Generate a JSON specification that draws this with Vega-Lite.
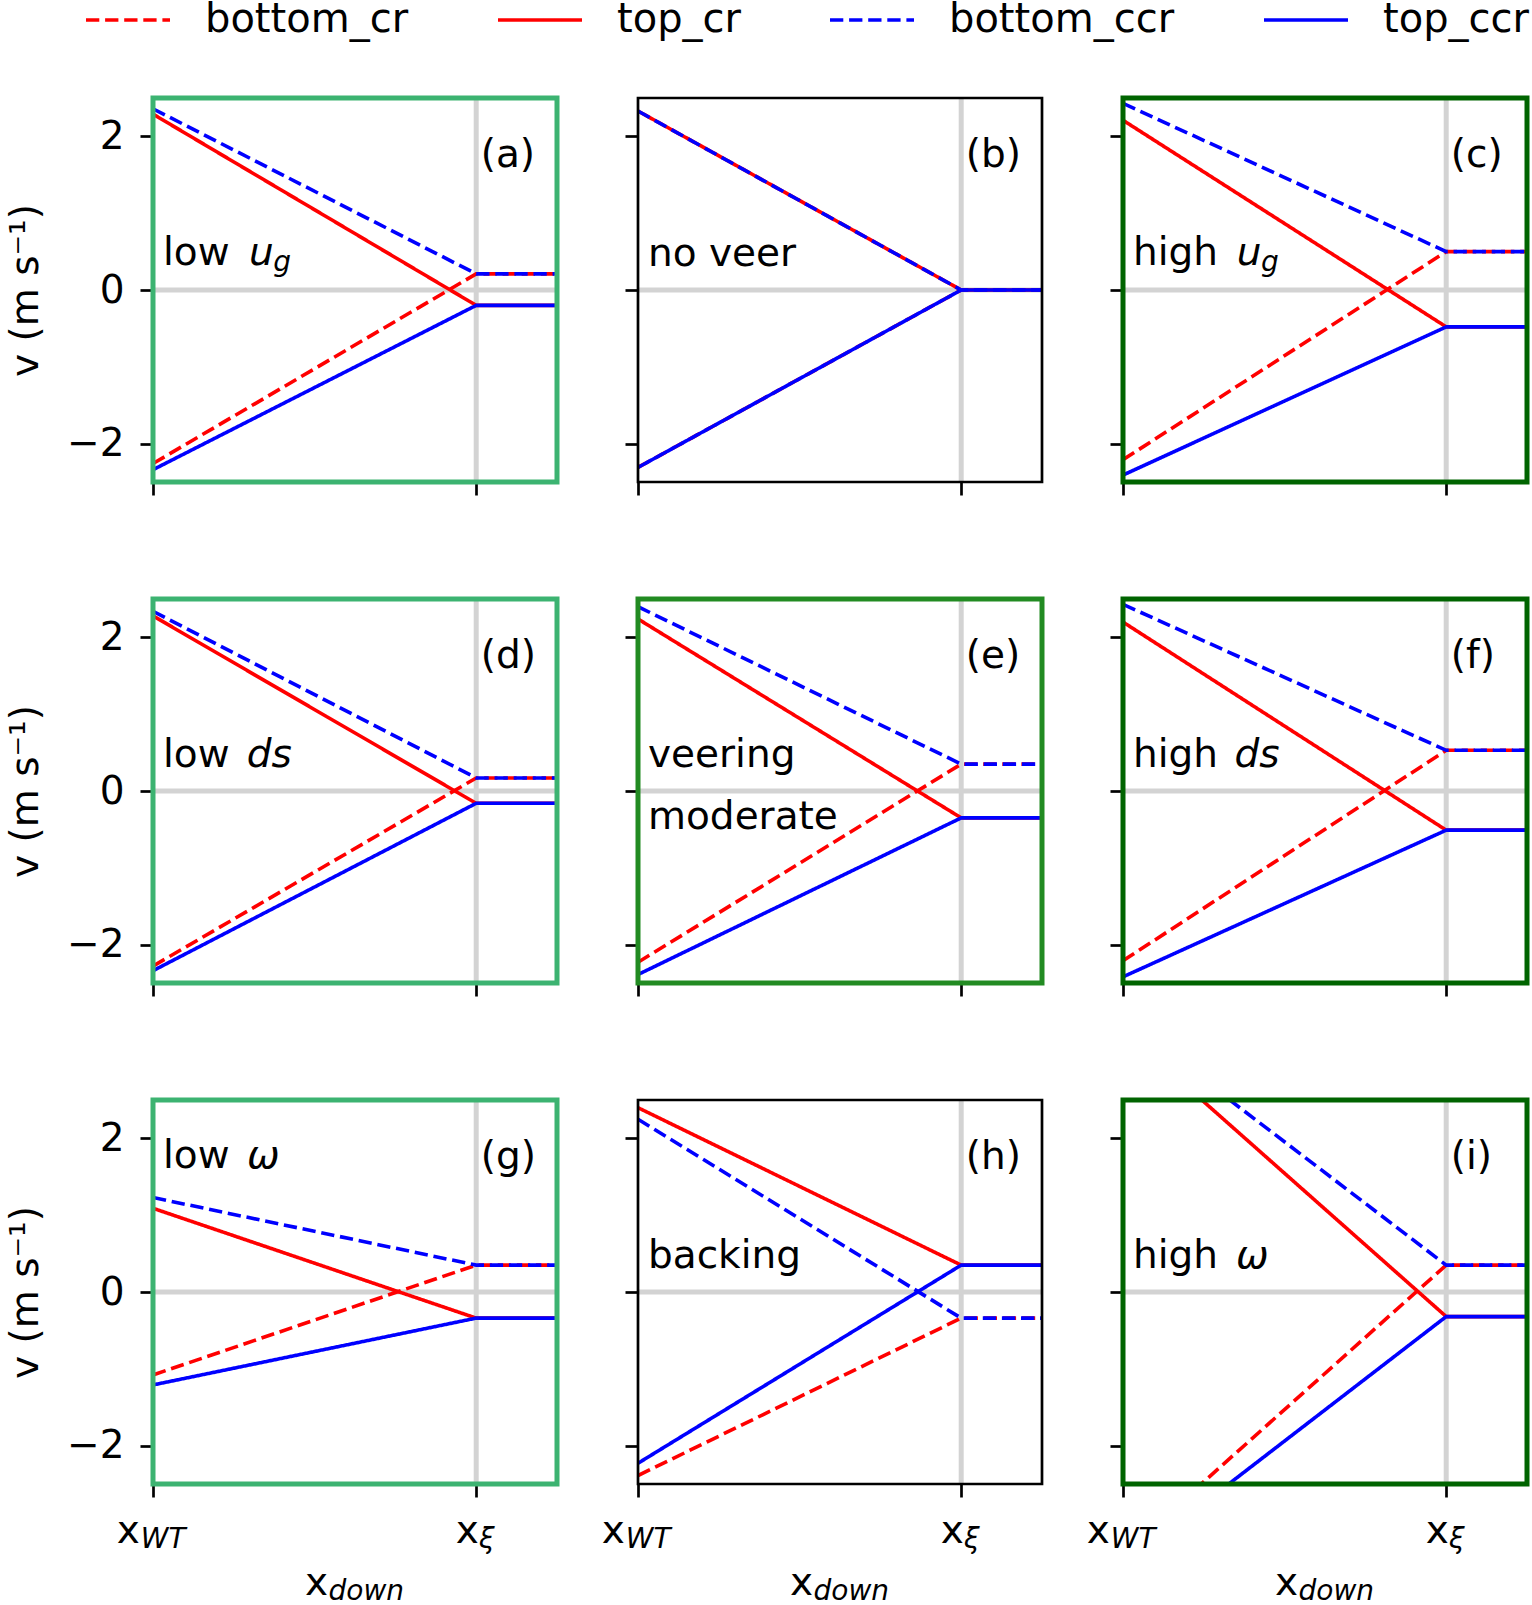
{
"$schema":"https://vega.github.io/schema/vega-lite/v6.json",
"padding":{"left":6,"top":0,"right":0,"bottom":0},
"autosize":{"type":"pad"},
"config":{"font":"DejaVu Sans","view":{"stroke":null},
 "axis":{"domain":false,"grid":false,"tickSize":13,"tickWidth":2.7,"tickColor":"#000","labelFont":"DejaVu Sans","labelFontSize":39,"labelColor":"#000","labelPadding":16,"titleFont":"DejaVu Sans","titleFontSize":39,"titleFontWeight":"normal","titleColor":"#000","titlePadding":21},
 "legend":{"labelFont":"DejaVu Sans","labelFontSize":40,"labelColor":"#000","labelLimit":600},
 "text":{"color":"#000","font":"DejaVu Sans"}},
"datasets":{
 "lines":[
  {"panel":"a","series":"bottom_cr","x":0,"v":-2.26},{"panel":"a","series":"bottom_cr","x":1,"v":0.21},{"panel":"a","series":"bottom_cr","x":1.25,"v":0.21},
  {"panel":"a","series":"top_cr","x":0,"v":2.29},{"panel":"a","series":"top_cr","x":1,"v":-0.2},{"panel":"a","series":"top_cr","x":1.25,"v":-0.2},
  {"panel":"a","series":"bottom_ccr","x":0,"v":2.36},{"panel":"a","series":"bottom_ccr","x":1,"v":0.21},{"panel":"a","series":"bottom_ccr","x":1.25,"v":0.21},
  {"panel":"a","series":"top_ccr","x":0,"v":-2.34},{"panel":"a","series":"top_ccr","x":1,"v":-0.2},{"panel":"a","series":"top_ccr","x":1.25,"v":-0.2},
  {"panel":"b","series":"bottom_cr","x":0,"v":-2.31},{"panel":"b","series":"bottom_cr","x":1,"v":0},{"panel":"b","series":"bottom_cr","x":1.25,"v":0},
  {"panel":"b","series":"top_cr","x":0,"v":2.33},{"panel":"b","series":"top_cr","x":1,"v":0},{"panel":"b","series":"top_cr","x":1.25,"v":0},
  {"panel":"b","series":"bottom_ccr","x":0,"v":2.33},{"panel":"b","series":"bottom_ccr","x":1,"v":0},{"panel":"b","series":"bottom_ccr","x":1.25,"v":0},
  {"panel":"b","series":"top_ccr","x":0,"v":-2.31},{"panel":"b","series":"top_ccr","x":1,"v":0},{"panel":"b","series":"top_ccr","x":1.25,"v":0},
  {"panel":"c","series":"bottom_cr","x":0,"v":-2.21},{"panel":"c","series":"bottom_cr","x":1,"v":0.5},{"panel":"c","series":"bottom_cr","x":1.25,"v":0.5},
  {"panel":"c","series":"top_cr","x":0,"v":2.21},{"panel":"c","series":"top_cr","x":1,"v":-0.48},{"panel":"c","series":"top_cr","x":1.25,"v":-0.48},
  {"panel":"c","series":"bottom_ccr","x":0,"v":2.43},{"panel":"c","series":"bottom_ccr","x":1,"v":0.5},{"panel":"c","series":"bottom_ccr","x":1.25,"v":0.5},
  {"panel":"c","series":"top_ccr","x":0,"v":-2.41},{"panel":"c","series":"top_ccr","x":1,"v":-0.48},{"panel":"c","series":"top_ccr","x":1.25,"v":-0.48},
  {"panel":"d","series":"bottom_cr","x":0,"v":-2.28},{"panel":"d","series":"bottom_cr","x":1,"v":0.17},{"panel":"d","series":"bottom_cr","x":1.25,"v":0.17},
  {"panel":"d","series":"top_cr","x":0,"v":2.28},{"panel":"d","series":"top_cr","x":1,"v":-0.16},{"panel":"d","series":"top_cr","x":1.25,"v":-0.16},
  {"panel":"d","series":"bottom_ccr","x":0,"v":2.34},{"panel":"d","series":"bottom_ccr","x":1,"v":0.17},{"panel":"d","series":"bottom_ccr","x":1.25,"v":0.17},
  {"panel":"d","series":"top_ccr","x":0,"v":-2.34},{"panel":"d","series":"top_ccr","x":1,"v":-0.16},{"panel":"d","series":"top_ccr","x":1.25,"v":-0.16},
  {"panel":"e","series":"bottom_cr","x":0,"v":-2.23},{"panel":"e","series":"bottom_cr","x":1,"v":0.35},{"panel":"e","series":"bottom_cr","x":1.25,"v":0.35},
  {"panel":"e","series":"top_cr","x":0,"v":2.24},{"panel":"e","series":"top_cr","x":1,"v":-0.35},{"panel":"e","series":"top_cr","x":1.25,"v":-0.35},
  {"panel":"e","series":"bottom_ccr","x":0,"v":2.4},{"panel":"e","series":"bottom_ccr","x":1,"v":0.35},{"panel":"e","series":"bottom_ccr","x":1.25,"v":0.35},
  {"panel":"e","series":"top_ccr","x":0,"v":-2.39},{"panel":"e","series":"top_ccr","x":1,"v":-0.35},{"panel":"e","series":"top_ccr","x":1.25,"v":-0.35},
  {"panel":"f","series":"bottom_cr","x":0,"v":-2.21},{"panel":"f","series":"bottom_cr","x":1,"v":0.53},{"panel":"f","series":"bottom_cr","x":1.25,"v":0.53},
  {"panel":"f","series":"top_cr","x":0,"v":2.2},{"panel":"f","series":"top_cr","x":1,"v":-0.51},{"panel":"f","series":"top_cr","x":1.25,"v":-0.51},
  {"panel":"f","series":"bottom_ccr","x":0,"v":2.43},{"panel":"f","series":"bottom_ccr","x":1,"v":0.53},{"panel":"f","series":"bottom_ccr","x":1.25,"v":0.53},
  {"panel":"f","series":"top_ccr","x":0,"v":-2.42},{"panel":"f","series":"top_ccr","x":1,"v":-0.51},{"panel":"f","series":"top_ccr","x":1.25,"v":-0.51},
  {"panel":"g","series":"bottom_cr","x":0,"v":-1.08},{"panel":"g","series":"bottom_cr","x":1,"v":0.35},{"panel":"g","series":"bottom_cr","x":1.25,"v":0.35},
  {"panel":"g","series":"top_cr","x":0,"v":1.09},{"panel":"g","series":"top_cr","x":1,"v":-0.34},{"panel":"g","series":"top_cr","x":1.25,"v":-0.34},
  {"panel":"g","series":"bottom_ccr","x":0,"v":1.23},{"panel":"g","series":"bottom_ccr","x":1,"v":0.35},{"panel":"g","series":"bottom_ccr","x":1.25,"v":0.35},
  {"panel":"g","series":"top_ccr","x":0,"v":-1.21},{"panel":"g","series":"top_ccr","x":1,"v":-0.34},{"panel":"g","series":"top_ccr","x":1.25,"v":-0.34},
  {"panel":"h","series":"bottom_cr","x":0,"v":-2.39},{"panel":"h","series":"bottom_cr","x":1,"v":-0.34},{"panel":"h","series":"bottom_cr","x":1.25,"v":-0.34},
  {"panel":"h","series":"top_cr","x":0,"v":2.4},{"panel":"h","series":"top_cr","x":1,"v":0.35},{"panel":"h","series":"top_cr","x":1.25,"v":0.35},
  {"panel":"h","series":"bottom_ccr","x":0,"v":2.25},{"panel":"h","series":"bottom_ccr","x":1,"v":-0.34},{"panel":"h","series":"bottom_ccr","x":1.25,"v":-0.34},
  {"panel":"h","series":"top_ccr","x":0,"v":-2.23},{"panel":"h","series":"top_ccr","x":1,"v":0.35},{"panel":"h","series":"top_ccr","x":1.25,"v":0.35},
  {"panel":"i","series":"bottom_cr","x":0,"v":-3.41},{"panel":"i","series":"bottom_cr","x":1,"v":0.35},{"panel":"i","series":"bottom_cr","x":1.25,"v":0.35},
  {"panel":"i","series":"top_cr","x":0,"v":3.41},{"panel":"i","series":"top_cr","x":1,"v":-0.32},{"panel":"i","series":"top_cr","x":1.25,"v":-0.32},
  {"panel":"i","series":"bottom_ccr","x":0,"v":3.56},{"panel":"i","series":"bottom_ccr","x":1,"v":0.35},{"panel":"i","series":"bottom_ccr","x":1.25,"v":0.35},
  {"panel":"i","series":"top_ccr","x":0,"v":-3.56},{"panel":"i","series":"top_ccr","x":1,"v":-0.32},{"panel":"i","series":"top_ccr","x":1.25,"v":-0.32}
 ],
 "ann":[
  {"panel":"a","x":0.031,"v":0.33,"text":"low"},
  {"panel":"b","x":0.031,"v":0.31,"text":"no veer"},
  {"panel":"c","x":0.031,"v":0.32,"text":"high"},
  {"panel":"d","x":0.031,"v":0.31,"text":"low"},
  {"panel":"e","x":0.031,"v":0.31,"text":"veering"},
  {"panel":"e","x":0.031,"v":-0.49,"text":"moderate"},
  {"panel":"f","x":0.031,"v":0.31,"text":"high"},
  {"panel":"g","x":0.031,"v":1.61,"text":"low"},
  {"panel":"h","x":0.031,"v":0.31,"text":"backing"},
  {"panel":"i","x":0.031,"v":0.31,"text":"high"}
 ],
 "ann_it":[
  {"panel":"a","x":0.297,"v":0.33,"text":"u"},
  {"panel":"c","x":0.352,"v":0.32,"text":"u"},
  {"panel":"d","x":0.29,"v":0.31,"text":"ds"},
  {"panel":"f","x":0.345,"v":0.31,"text":"ds"},
  {"panel":"g","x":0.291,"v":1.61,"text":"ω"},
  {"panel":"i","x":0.35,"v":0.31,"text":"ω"}
 ],
 "ann_sub":[
  {"panel":"a","x":0.372,"v":0.33,"text":"g"},
  {"panel":"c","x":0.427,"v":0.32,"text":"g"}
 ],
 "tags":[
  {"panel":"a","x":1.014,"v":1.6,"text":"(a)"},{"panel":"b","x":1.014,"v":1.6,"text":"(b)"},{"panel":"c","x":1.014,"v":1.6,"text":"(c)"},
  {"panel":"d","x":1.014,"v":1.6,"text":"(d)"},{"panel":"e","x":1.014,"v":1.6,"text":"(e)"},{"panel":"f","x":1.014,"v":1.6,"text":"(f)"},
  {"panel":"g","x":1.014,"v":1.6,"text":"(g)"},{"panel":"h","x":1.014,"v":1.6,"text":"(h)"},{"panel":"i","x":1.014,"v":1.6,"text":"(i)"}
 ],
 "xlab":[{"x":-0.112,"text":"x"},{"x":0.937,"text":"x"}],
 "xlab_sub":[{"x":-0.038,"text":"WT"},{"x":1.009,"text":"ξ"}],
 "xtitle":[{"x":0.47,"text":"x"}],
 "xtitle_sub":[{"x":0.543,"text":"down"}]
},
"columns":3,
"spacing":{"row":117,"column":81},
"bounds":"flush",
"concat":[
 {"width":404,"height":384,"layer":[
  {"data":{"values":[{}]},"mark":{"type":"rule","color":"#d3d3d3","strokeWidth":5},"encoding":{"x":{"datum":1,"scale":{"domain":[0,1.25],"nice":false,"zero":false}}}},
  {"data":{"values":[{}]},"mark":{"type":"rule","color":"#d3d3d3","strokeWidth":5},"encoding":{"y":{"datum":0,"scale":{"domain":[-2.5,2.5],"nice":false,"zero":false}}}},
  {"data":{"name":"lines"},"transform":[{"filter":"datum.panel==='a'"}],"mark":{"type":"line","clip":true,"strokeWidth":3.6},"encoding":{
   "x":{"field":"x","type":"quantitative","scale":{"domain":[0,1.25],"nice":false,"zero":false},"axis":{"values":[0,1],"labels":false,"title":null}},
   "y":{"field":"v","type":"quantitative","scale":{"domain":[-2.5,2.5],"nice":false,"zero":false},"axis":{"values":[-2,0,2],"format":"d","title":"v (m s⁻¹)"}},
   "color":{"field":"series","type":"nominal","title":null,"scale":{"domain":["bottom_cr","top_cr","bottom_ccr","top_ccr"],"range":["#ff0000","#ff0000","#0000ff","#0000ff"]},"legend":{"title":null,"orient":"none","legendX":-45,"legendY":-98,"direction":"horizontal","columns":4,"symbolType":"M-4.2,0H4.2","symbolSize":400,"symbolStrokeWidth":3.6,"labelFontSize":40,"labelOffset":57,"columnPadding":81,"padding":0,"labelLimit":600}},
   "strokeDash":{"field":"series","type":"nominal","title":null,"scale":{"domain":["bottom_cr","top_cr","bottom_ccr","top_ccr"],"range":[[13.3,5.8],[1,0],[13.3,5.8],[1,0]]},"legend":{"title":null,"orient":"none","legendX":-45,"legendY":-98,"direction":"horizontal","columns":4,"symbolType":"M-4.2,0H4.2","symbolSize":400,"symbolStrokeWidth":3.6,"labelFontSize":40,"labelOffset":57,"columnPadding":81,"padding":0,"labelLimit":600}}}},
  {"data":{"name":"ann"},"transform":[{"filter":"datum.panel==='a'"}],"mark":{"type":"text","align":"left","baseline":"alphabetic","fontSize":39},"encoding":{"x":{"field":"x","type":"quantitative","scale":{"domain":[0,1.25],"nice":false,"zero":false}},"y":{"field":"v","type":"quantitative","scale":{"domain":[-2.5,2.5],"nice":false,"zero":false}},"text":{"field":"text"}}},
  {"data":{"name":"ann_it"},"transform":[{"filter":"datum.panel==='a'"}],"mark":{"type":"text","align":"left","baseline":"alphabetic","fontSize":39,"fontStyle":"italic"},"encoding":{"x":{"field":"x","type":"quantitative","scale":{"domain":[0,1.25],"nice":false,"zero":false}},"y":{"field":"v","type":"quantitative","scale":{"domain":[-2.5,2.5],"nice":false,"zero":false}},"text":{"field":"text"}}},
  {"data":{"name":"ann_sub"},"transform":[{"filter":"datum.panel==='a'"}],"mark":{"type":"text","align":"left","baseline":"alphabetic","fontSize":28,"fontStyle":"italic","dy":6},"encoding":{"x":{"field":"x","type":"quantitative","scale":{"domain":[0,1.25],"nice":false,"zero":false}},"y":{"field":"v","type":"quantitative","scale":{"domain":[-2.5,2.5],"nice":false,"zero":false}},"text":{"field":"text"}}},
  {"data":{"name":"tags"},"transform":[{"filter":"datum.panel==='a'"}],"mark":{"type":"text","align":"left","baseline":"alphabetic","fontSize":39},"encoding":{"x":{"field":"x","type":"quantitative","scale":{"domain":[0,1.25],"nice":false,"zero":false}},"y":{"field":"v","type":"quantitative","scale":{"domain":[-2.5,2.5],"nice":false,"zero":false}},"text":{"field":"text"}}},
  {"data":{"values":[{}]},"mark":{"type":"rect","filled":false,"stroke":"#3cb371","strokeWidth":5},"encoding":{"x":{"datum":0,"scale":{"domain":[0,1.25],"nice":false,"zero":false}},"x2":{"datum":1.25},"y":{"datum":-2.5,"scale":{"domain":[-2.5,2.5],"nice":false,"zero":false}},"y2":{"datum":2.5}}}
 ]},
 {"width":404,"height":384,"layer":[
  {"data":{"values":[{}]},"mark":{"type":"rule","color":"#d3d3d3","strokeWidth":5},"encoding":{"x":{"datum":1,"scale":{"domain":[0,1.25],"nice":false,"zero":false}}}},
  {"data":{"values":[{}]},"mark":{"type":"rule","color":"#d3d3d3","strokeWidth":5},"encoding":{"y":{"datum":0,"scale":{"domain":[-2.5,2.5],"nice":false,"zero":false}}}},
  {"data":{"name":"lines"},"transform":[{"filter":"datum.panel==='b'"}],"mark":{"type":"line","clip":true,"strokeWidth":3.6},"encoding":{
   "x":{"field":"x","type":"quantitative","scale":{"domain":[0,1.25],"nice":false,"zero":false},"axis":{"values":[0,1],"labels":false,"title":null}},
   "y":{"field":"v","type":"quantitative","scale":{"domain":[-2.5,2.5],"nice":false,"zero":false},"axis":{"values":[-2,0,2],"labels":false,"title":null}},
   "color":{"field":"series","type":"nominal","title":null,"scale":{"domain":["bottom_cr","top_cr","bottom_ccr","top_ccr"],"range":["#ff0000","#ff0000","#0000ff","#0000ff"]},"legend":{"title":null,"orient":"none","legendX":-45,"legendY":-98,"direction":"horizontal","columns":4,"symbolType":"M-4.2,0H4.2","symbolSize":400,"symbolStrokeWidth":3.6,"labelFontSize":40,"labelOffset":57,"columnPadding":81,"padding":0,"labelLimit":600}},
   "strokeDash":{"field":"series","type":"nominal","title":null,"scale":{"domain":["bottom_cr","top_cr","bottom_ccr","top_ccr"],"range":[[13.3,5.8],[1,0],[13.3,5.8],[1,0]]},"legend":{"title":null,"orient":"none","legendX":-45,"legendY":-98,"direction":"horizontal","columns":4,"symbolType":"M-4.2,0H4.2","symbolSize":400,"symbolStrokeWidth":3.6,"labelFontSize":40,"labelOffset":57,"columnPadding":81,"padding":0,"labelLimit":600}}}},
  {"data":{"name":"ann"},"transform":[{"filter":"datum.panel==='b'"}],"mark":{"type":"text","align":"left","baseline":"alphabetic","fontSize":39},"encoding":{"x":{"field":"x","type":"quantitative","scale":{"domain":[0,1.25],"nice":false,"zero":false}},"y":{"field":"v","type":"quantitative","scale":{"domain":[-2.5,2.5],"nice":false,"zero":false}},"text":{"field":"text"}}},
  {"data":{"name":"tags"},"transform":[{"filter":"datum.panel==='b'"}],"mark":{"type":"text","align":"left","baseline":"alphabetic","fontSize":39},"encoding":{"x":{"field":"x","type":"quantitative","scale":{"domain":[0,1.25],"nice":false,"zero":false}},"y":{"field":"v","type":"quantitative","scale":{"domain":[-2.5,2.5],"nice":false,"zero":false}},"text":{"field":"text"}}},
  {"data":{"values":[{}]},"mark":{"type":"rect","filled":false,"stroke":"#000000","strokeWidth":2.7},"encoding":{"x":{"datum":0,"scale":{"domain":[0,1.25],"nice":false,"zero":false}},"x2":{"datum":1.25},"y":{"datum":-2.5,"scale":{"domain":[-2.5,2.5],"nice":false,"zero":false}},"y2":{"datum":2.5}}}
 ]},
 {"width":404,"height":384,"layer":[
  {"data":{"values":[{}]},"mark":{"type":"rule","color":"#d3d3d3","strokeWidth":5},"encoding":{"x":{"datum":1,"scale":{"domain":[0,1.25],"nice":false,"zero":false}}}},
  {"data":{"values":[{}]},"mark":{"type":"rule","color":"#d3d3d3","strokeWidth":5},"encoding":{"y":{"datum":0,"scale":{"domain":[-2.5,2.5],"nice":false,"zero":false}}}},
  {"data":{"name":"lines"},"transform":[{"filter":"datum.panel==='c'"}],"mark":{"type":"line","clip":true,"strokeWidth":3.6},"encoding":{
   "x":{"field":"x","type":"quantitative","scale":{"domain":[0,1.25],"nice":false,"zero":false},"axis":{"values":[0,1],"labels":false,"title":null}},
   "y":{"field":"v","type":"quantitative","scale":{"domain":[-2.5,2.5],"nice":false,"zero":false},"axis":{"values":[-2,0,2],"labels":false,"title":null}},
   "color":{"field":"series","type":"nominal","title":null,"scale":{"domain":["bottom_cr","top_cr","bottom_ccr","top_ccr"],"range":["#ff0000","#ff0000","#0000ff","#0000ff"]},"legend":{"title":null,"orient":"none","legendX":-45,"legendY":-98,"direction":"horizontal","columns":4,"symbolType":"M-4.2,0H4.2","symbolSize":400,"symbolStrokeWidth":3.6,"labelFontSize":40,"labelOffset":57,"columnPadding":81,"padding":0,"labelLimit":600}},
   "strokeDash":{"field":"series","type":"nominal","title":null,"scale":{"domain":["bottom_cr","top_cr","bottom_ccr","top_ccr"],"range":[[13.3,5.8],[1,0],[13.3,5.8],[1,0]]},"legend":{"title":null,"orient":"none","legendX":-45,"legendY":-98,"direction":"horizontal","columns":4,"symbolType":"M-4.2,0H4.2","symbolSize":400,"symbolStrokeWidth":3.6,"labelFontSize":40,"labelOffset":57,"columnPadding":81,"padding":0,"labelLimit":600}}}},
  {"data":{"name":"ann"},"transform":[{"filter":"datum.panel==='c'"}],"mark":{"type":"text","align":"left","baseline":"alphabetic","fontSize":39},"encoding":{"x":{"field":"x","type":"quantitative","scale":{"domain":[0,1.25],"nice":false,"zero":false}},"y":{"field":"v","type":"quantitative","scale":{"domain":[-2.5,2.5],"nice":false,"zero":false}},"text":{"field":"text"}}},
  {"data":{"name":"ann_it"},"transform":[{"filter":"datum.panel==='c'"}],"mark":{"type":"text","align":"left","baseline":"alphabetic","fontSize":39,"fontStyle":"italic"},"encoding":{"x":{"field":"x","type":"quantitative","scale":{"domain":[0,1.25],"nice":false,"zero":false}},"y":{"field":"v","type":"quantitative","scale":{"domain":[-2.5,2.5],"nice":false,"zero":false}},"text":{"field":"text"}}},
  {"data":{"name":"ann_sub"},"transform":[{"filter":"datum.panel==='c'"}],"mark":{"type":"text","align":"left","baseline":"alphabetic","fontSize":28,"fontStyle":"italic","dy":6},"encoding":{"x":{"field":"x","type":"quantitative","scale":{"domain":[0,1.25],"nice":false,"zero":false}},"y":{"field":"v","type":"quantitative","scale":{"domain":[-2.5,2.5],"nice":false,"zero":false}},"text":{"field":"text"}}},
  {"data":{"name":"tags"},"transform":[{"filter":"datum.panel==='c'"}],"mark":{"type":"text","align":"left","baseline":"alphabetic","fontSize":39},"encoding":{"x":{"field":"x","type":"quantitative","scale":{"domain":[0,1.25],"nice":false,"zero":false}},"y":{"field":"v","type":"quantitative","scale":{"domain":[-2.5,2.5],"nice":false,"zero":false}},"text":{"field":"text"}}},
  {"data":{"values":[{}]},"mark":{"type":"rect","filled":false,"stroke":"#006400","strokeWidth":5},"encoding":{"x":{"datum":0,"scale":{"domain":[0,1.25],"nice":false,"zero":false}},"x2":{"datum":1.25},"y":{"datum":-2.5,"scale":{"domain":[-2.5,2.5],"nice":false,"zero":false}},"y2":{"datum":2.5}}}
 ]},
 {"width":404,"height":384,"layer":[
  {"data":{"values":[{}]},"mark":{"type":"rule","color":"#d3d3d3","strokeWidth":5},"encoding":{"x":{"datum":1,"scale":{"domain":[0,1.25],"nice":false,"zero":false}}}},
  {"data":{"values":[{}]},"mark":{"type":"rule","color":"#d3d3d3","strokeWidth":5},"encoding":{"y":{"datum":0,"scale":{"domain":[-2.5,2.5],"nice":false,"zero":false}}}},
  {"data":{"name":"lines"},"transform":[{"filter":"datum.panel==='d'"}],"mark":{"type":"line","clip":true,"strokeWidth":3.6},"encoding":{
   "x":{"field":"x","type":"quantitative","scale":{"domain":[0,1.25],"nice":false,"zero":false},"axis":{"values":[0,1],"labels":false,"title":null}},
   "y":{"field":"v","type":"quantitative","scale":{"domain":[-2.5,2.5],"nice":false,"zero":false},"axis":{"values":[-2,0,2],"format":"d","title":"v (m s⁻¹)"}},
   "color":{"field":"series","type":"nominal","title":null,"scale":{"domain":["bottom_cr","top_cr","bottom_ccr","top_ccr"],"range":["#ff0000","#ff0000","#0000ff","#0000ff"]},"legend":{"title":null,"orient":"none","legendX":-45,"legendY":-98,"direction":"horizontal","columns":4,"symbolType":"M-4.2,0H4.2","symbolSize":400,"symbolStrokeWidth":3.6,"labelFontSize":40,"labelOffset":57,"columnPadding":81,"padding":0,"labelLimit":600}},
   "strokeDash":{"field":"series","type":"nominal","title":null,"scale":{"domain":["bottom_cr","top_cr","bottom_ccr","top_ccr"],"range":[[13.3,5.8],[1,0],[13.3,5.8],[1,0]]},"legend":{"title":null,"orient":"none","legendX":-45,"legendY":-98,"direction":"horizontal","columns":4,"symbolType":"M-4.2,0H4.2","symbolSize":400,"symbolStrokeWidth":3.6,"labelFontSize":40,"labelOffset":57,"columnPadding":81,"padding":0,"labelLimit":600}}}},
  {"data":{"name":"ann"},"transform":[{"filter":"datum.panel==='d'"}],"mark":{"type":"text","align":"left","baseline":"alphabetic","fontSize":39},"encoding":{"x":{"field":"x","type":"quantitative","scale":{"domain":[0,1.25],"nice":false,"zero":false}},"y":{"field":"v","type":"quantitative","scale":{"domain":[-2.5,2.5],"nice":false,"zero":false}},"text":{"field":"text"}}},
  {"data":{"name":"ann_it"},"transform":[{"filter":"datum.panel==='d'"}],"mark":{"type":"text","align":"left","baseline":"alphabetic","fontSize":39,"fontStyle":"italic"},"encoding":{"x":{"field":"x","type":"quantitative","scale":{"domain":[0,1.25],"nice":false,"zero":false}},"y":{"field":"v","type":"quantitative","scale":{"domain":[-2.5,2.5],"nice":false,"zero":false}},"text":{"field":"text"}}},
  {"data":{"name":"tags"},"transform":[{"filter":"datum.panel==='d'"}],"mark":{"type":"text","align":"left","baseline":"alphabetic","fontSize":39},"encoding":{"x":{"field":"x","type":"quantitative","scale":{"domain":[0,1.25],"nice":false,"zero":false}},"y":{"field":"v","type":"quantitative","scale":{"domain":[-2.5,2.5],"nice":false,"zero":false}},"text":{"field":"text"}}},
  {"data":{"values":[{}]},"mark":{"type":"rect","filled":false,"stroke":"#3cb371","strokeWidth":5},"encoding":{"x":{"datum":0,"scale":{"domain":[0,1.25],"nice":false,"zero":false}},"x2":{"datum":1.25},"y":{"datum":-2.5,"scale":{"domain":[-2.5,2.5],"nice":false,"zero":false}},"y2":{"datum":2.5}}}
 ]},
 {"width":404,"height":384,"layer":[
  {"data":{"values":[{}]},"mark":{"type":"rule","color":"#d3d3d3","strokeWidth":5},"encoding":{"x":{"datum":1,"scale":{"domain":[0,1.25],"nice":false,"zero":false}}}},
  {"data":{"values":[{}]},"mark":{"type":"rule","color":"#d3d3d3","strokeWidth":5},"encoding":{"y":{"datum":0,"scale":{"domain":[-2.5,2.5],"nice":false,"zero":false}}}},
  {"data":{"name":"lines"},"transform":[{"filter":"datum.panel==='e'"}],"mark":{"type":"line","clip":true,"strokeWidth":3.6},"encoding":{
   "x":{"field":"x","type":"quantitative","scale":{"domain":[0,1.25],"nice":false,"zero":false},"axis":{"values":[0,1],"labels":false,"title":null}},
   "y":{"field":"v","type":"quantitative","scale":{"domain":[-2.5,2.5],"nice":false,"zero":false},"axis":{"values":[-2,0,2],"labels":false,"title":null}},
   "color":{"field":"series","type":"nominal","title":null,"scale":{"domain":["bottom_cr","top_cr","bottom_ccr","top_ccr"],"range":["#ff0000","#ff0000","#0000ff","#0000ff"]},"legend":{"title":null,"orient":"none","legendX":-45,"legendY":-98,"direction":"horizontal","columns":4,"symbolType":"M-4.2,0H4.2","symbolSize":400,"symbolStrokeWidth":3.6,"labelFontSize":40,"labelOffset":57,"columnPadding":81,"padding":0,"labelLimit":600}},
   "strokeDash":{"field":"series","type":"nominal","title":null,"scale":{"domain":["bottom_cr","top_cr","bottom_ccr","top_ccr"],"range":[[13.3,5.8],[1,0],[13.3,5.8],[1,0]]},"legend":{"title":null,"orient":"none","legendX":-45,"legendY":-98,"direction":"horizontal","columns":4,"symbolType":"M-4.2,0H4.2","symbolSize":400,"symbolStrokeWidth":3.6,"labelFontSize":40,"labelOffset":57,"columnPadding":81,"padding":0,"labelLimit":600}}}},
  {"data":{"name":"ann"},"transform":[{"filter":"datum.panel==='e'"}],"mark":{"type":"text","align":"left","baseline":"alphabetic","fontSize":39},"encoding":{"x":{"field":"x","type":"quantitative","scale":{"domain":[0,1.25],"nice":false,"zero":false}},"y":{"field":"v","type":"quantitative","scale":{"domain":[-2.5,2.5],"nice":false,"zero":false}},"text":{"field":"text"}}},
  {"data":{"name":"tags"},"transform":[{"filter":"datum.panel==='e'"}],"mark":{"type":"text","align":"left","baseline":"alphabetic","fontSize":39},"encoding":{"x":{"field":"x","type":"quantitative","scale":{"domain":[0,1.25],"nice":false,"zero":false}},"y":{"field":"v","type":"quantitative","scale":{"domain":[-2.5,2.5],"nice":false,"zero":false}},"text":{"field":"text"}}},
  {"data":{"values":[{}]},"mark":{"type":"rect","filled":false,"stroke":"#228b22","strokeWidth":5},"encoding":{"x":{"datum":0,"scale":{"domain":[0,1.25],"nice":false,"zero":false}},"x2":{"datum":1.25},"y":{"datum":-2.5,"scale":{"domain":[-2.5,2.5],"nice":false,"zero":false}},"y2":{"datum":2.5}}}
 ]},
 {"width":404,"height":384,"layer":[
  {"data":{"values":[{}]},"mark":{"type":"rule","color":"#d3d3d3","strokeWidth":5},"encoding":{"x":{"datum":1,"scale":{"domain":[0,1.25],"nice":false,"zero":false}}}},
  {"data":{"values":[{}]},"mark":{"type":"rule","color":"#d3d3d3","strokeWidth":5},"encoding":{"y":{"datum":0,"scale":{"domain":[-2.5,2.5],"nice":false,"zero":false}}}},
  {"data":{"name":"lines"},"transform":[{"filter":"datum.panel==='f'"}],"mark":{"type":"line","clip":true,"strokeWidth":3.6},"encoding":{
   "x":{"field":"x","type":"quantitative","scale":{"domain":[0,1.25],"nice":false,"zero":false},"axis":{"values":[0,1],"labels":false,"title":null}},
   "y":{"field":"v","type":"quantitative","scale":{"domain":[-2.5,2.5],"nice":false,"zero":false},"axis":{"values":[-2,0,2],"labels":false,"title":null}},
   "color":{"field":"series","type":"nominal","title":null,"scale":{"domain":["bottom_cr","top_cr","bottom_ccr","top_ccr"],"range":["#ff0000","#ff0000","#0000ff","#0000ff"]},"legend":{"title":null,"orient":"none","legendX":-45,"legendY":-98,"direction":"horizontal","columns":4,"symbolType":"M-4.2,0H4.2","symbolSize":400,"symbolStrokeWidth":3.6,"labelFontSize":40,"labelOffset":57,"columnPadding":81,"padding":0,"labelLimit":600}},
   "strokeDash":{"field":"series","type":"nominal","title":null,"scale":{"domain":["bottom_cr","top_cr","bottom_ccr","top_ccr"],"range":[[13.3,5.8],[1,0],[13.3,5.8],[1,0]]},"legend":{"title":null,"orient":"none","legendX":-45,"legendY":-98,"direction":"horizontal","columns":4,"symbolType":"M-4.2,0H4.2","symbolSize":400,"symbolStrokeWidth":3.6,"labelFontSize":40,"labelOffset":57,"columnPadding":81,"padding":0,"labelLimit":600}}}},
  {"data":{"name":"ann"},"transform":[{"filter":"datum.panel==='f'"}],"mark":{"type":"text","align":"left","baseline":"alphabetic","fontSize":39},"encoding":{"x":{"field":"x","type":"quantitative","scale":{"domain":[0,1.25],"nice":false,"zero":false}},"y":{"field":"v","type":"quantitative","scale":{"domain":[-2.5,2.5],"nice":false,"zero":false}},"text":{"field":"text"}}},
  {"data":{"name":"ann_it"},"transform":[{"filter":"datum.panel==='f'"}],"mark":{"type":"text","align":"left","baseline":"alphabetic","fontSize":39,"fontStyle":"italic"},"encoding":{"x":{"field":"x","type":"quantitative","scale":{"domain":[0,1.25],"nice":false,"zero":false}},"y":{"field":"v","type":"quantitative","scale":{"domain":[-2.5,2.5],"nice":false,"zero":false}},"text":{"field":"text"}}},
  {"data":{"name":"tags"},"transform":[{"filter":"datum.panel==='f'"}],"mark":{"type":"text","align":"left","baseline":"alphabetic","fontSize":39},"encoding":{"x":{"field":"x","type":"quantitative","scale":{"domain":[0,1.25],"nice":false,"zero":false}},"y":{"field":"v","type":"quantitative","scale":{"domain":[-2.5,2.5],"nice":false,"zero":false}},"text":{"field":"text"}}},
  {"data":{"values":[{}]},"mark":{"type":"rect","filled":false,"stroke":"#006400","strokeWidth":5},"encoding":{"x":{"datum":0,"scale":{"domain":[0,1.25],"nice":false,"zero":false}},"x2":{"datum":1.25},"y":{"datum":-2.5,"scale":{"domain":[-2.5,2.5],"nice":false,"zero":false}},"y2":{"datum":2.5}}}
 ]},
 {"width":404,"height":384,"layer":[
  {"data":{"values":[{}]},"mark":{"type":"rule","color":"#d3d3d3","strokeWidth":5},"encoding":{"x":{"datum":1,"scale":{"domain":[0,1.25],"nice":false,"zero":false}}}},
  {"data":{"values":[{}]},"mark":{"type":"rule","color":"#d3d3d3","strokeWidth":5},"encoding":{"y":{"datum":0,"scale":{"domain":[-2.5,2.5],"nice":false,"zero":false}}}},
  {"data":{"name":"lines"},"transform":[{"filter":"datum.panel==='g'"}],"mark":{"type":"line","clip":true,"strokeWidth":3.6},"encoding":{
   "x":{"field":"x","type":"quantitative","scale":{"domain":[0,1.25],"nice":false,"zero":false},"axis":{"values":[0,1],"labels":false,"title":null}},
   "y":{"field":"v","type":"quantitative","scale":{"domain":[-2.5,2.5],"nice":false,"zero":false},"axis":{"values":[-2,0,2],"format":"d","title":"v (m s⁻¹)"}},
   "color":{"field":"series","type":"nominal","title":null,"scale":{"domain":["bottom_cr","top_cr","bottom_ccr","top_ccr"],"range":["#ff0000","#ff0000","#0000ff","#0000ff"]},"legend":{"title":null,"orient":"none","legendX":-45,"legendY":-98,"direction":"horizontal","columns":4,"symbolType":"M-4.2,0H4.2","symbolSize":400,"symbolStrokeWidth":3.6,"labelFontSize":40,"labelOffset":57,"columnPadding":81,"padding":0,"labelLimit":600}},
   "strokeDash":{"field":"series","type":"nominal","title":null,"scale":{"domain":["bottom_cr","top_cr","bottom_ccr","top_ccr"],"range":[[13.3,5.8],[1,0],[13.3,5.8],[1,0]]},"legend":{"title":null,"orient":"none","legendX":-45,"legendY":-98,"direction":"horizontal","columns":4,"symbolType":"M-4.2,0H4.2","symbolSize":400,"symbolStrokeWidth":3.6,"labelFontSize":40,"labelOffset":57,"columnPadding":81,"padding":0,"labelLimit":600}}}},
  {"data":{"name":"ann"},"transform":[{"filter":"datum.panel==='g'"}],"mark":{"type":"text","align":"left","baseline":"alphabetic","fontSize":39},"encoding":{"x":{"field":"x","type":"quantitative","scale":{"domain":[0,1.25],"nice":false,"zero":false}},"y":{"field":"v","type":"quantitative","scale":{"domain":[-2.5,2.5],"nice":false,"zero":false}},"text":{"field":"text"}}},
  {"data":{"name":"ann_it"},"transform":[{"filter":"datum.panel==='g'"}],"mark":{"type":"text","align":"left","baseline":"alphabetic","fontSize":39,"fontStyle":"italic"},"encoding":{"x":{"field":"x","type":"quantitative","scale":{"domain":[0,1.25],"nice":false,"zero":false}},"y":{"field":"v","type":"quantitative","scale":{"domain":[-2.5,2.5],"nice":false,"zero":false}},"text":{"field":"text"}}},
  {"data":{"name":"tags"},"transform":[{"filter":"datum.panel==='g'"}],"mark":{"type":"text","align":"left","baseline":"alphabetic","fontSize":39},"encoding":{"x":{"field":"x","type":"quantitative","scale":{"domain":[0,1.25],"nice":false,"zero":false}},"y":{"field":"v","type":"quantitative","scale":{"domain":[-2.5,2.5],"nice":false,"zero":false}},"text":{"field":"text"}}},
  {"data":{"name":"xlab"},"mark":{"type":"text","align":"left","baseline":"alphabetic","fontSize":39,"dy":59},"encoding":{"x":{"field":"x","type":"quantitative","scale":{"domain":[0,1.25],"nice":false,"zero":false}},"y":{"datum":-2.5,"scale":{"domain":[-2.5,2.5],"nice":false,"zero":false}},"text":{"field":"text"}}},
  {"data":{"name":"xlab_sub"},"mark":{"type":"text","align":"left","baseline":"alphabetic","fontSize":28,"fontStyle":"italic","dy":64},"encoding":{"x":{"field":"x","type":"quantitative","scale":{"domain":[0,1.25],"nice":false,"zero":false}},"y":{"datum":-2.5,"scale":{"domain":[-2.5,2.5],"nice":false,"zero":false}},"text":{"field":"text"}}},
  {"data":{"name":"xtitle"},"mark":{"type":"text","align":"left","baseline":"alphabetic","fontSize":39,"dy":111},"encoding":{"x":{"field":"x","type":"quantitative","scale":{"domain":[0,1.25],"nice":false,"zero":false}},"y":{"datum":-2.5,"scale":{"domain":[-2.5,2.5],"nice":false,"zero":false}},"text":{"field":"text"}}},
  {"data":{"name":"xtitle_sub"},"mark":{"type":"text","align":"left","baseline":"alphabetic","fontSize":28,"fontStyle":"italic","dy":116},"encoding":{"x":{"field":"x","type":"quantitative","scale":{"domain":[0,1.25],"nice":false,"zero":false}},"y":{"datum":-2.5,"scale":{"domain":[-2.5,2.5],"nice":false,"zero":false}},"text":{"field":"text"}}},
  {"data":{"values":[{}]},"mark":{"type":"rect","filled":false,"stroke":"#3cb371","strokeWidth":5},"encoding":{"x":{"datum":0,"scale":{"domain":[0,1.25],"nice":false,"zero":false}},"x2":{"datum":1.25},"y":{"datum":-2.5,"scale":{"domain":[-2.5,2.5],"nice":false,"zero":false}},"y2":{"datum":2.5}}}
 ]},
 {"width":404,"height":384,"layer":[
  {"data":{"values":[{}]},"mark":{"type":"rule","color":"#d3d3d3","strokeWidth":5},"encoding":{"x":{"datum":1,"scale":{"domain":[0,1.25],"nice":false,"zero":false}}}},
  {"data":{"values":[{}]},"mark":{"type":"rule","color":"#d3d3d3","strokeWidth":5},"encoding":{"y":{"datum":0,"scale":{"domain":[-2.5,2.5],"nice":false,"zero":false}}}},
  {"data":{"name":"lines"},"transform":[{"filter":"datum.panel==='h'"}],"mark":{"type":"line","clip":true,"strokeWidth":3.6},"encoding":{
   "x":{"field":"x","type":"quantitative","scale":{"domain":[0,1.25],"nice":false,"zero":false},"axis":{"values":[0,1],"labels":false,"title":null}},
   "y":{"field":"v","type":"quantitative","scale":{"domain":[-2.5,2.5],"nice":false,"zero":false},"axis":{"values":[-2,0,2],"labels":false,"title":null}},
   "color":{"field":"series","type":"nominal","title":null,"scale":{"domain":["bottom_cr","top_cr","bottom_ccr","top_ccr"],"range":["#ff0000","#ff0000","#0000ff","#0000ff"]},"legend":{"title":null,"orient":"none","legendX":-45,"legendY":-98,"direction":"horizontal","columns":4,"symbolType":"M-4.2,0H4.2","symbolSize":400,"symbolStrokeWidth":3.6,"labelFontSize":40,"labelOffset":57,"columnPadding":81,"padding":0,"labelLimit":600}},
   "strokeDash":{"field":"series","type":"nominal","title":null,"scale":{"domain":["bottom_cr","top_cr","bottom_ccr","top_ccr"],"range":[[13.3,5.8],[1,0],[13.3,5.8],[1,0]]},"legend":{"title":null,"orient":"none","legendX":-45,"legendY":-98,"direction":"horizontal","columns":4,"symbolType":"M-4.2,0H4.2","symbolSize":400,"symbolStrokeWidth":3.6,"labelFontSize":40,"labelOffset":57,"columnPadding":81,"padding":0,"labelLimit":600}}}},
  {"data":{"name":"ann"},"transform":[{"filter":"datum.panel==='h'"}],"mark":{"type":"text","align":"left","baseline":"alphabetic","fontSize":39},"encoding":{"x":{"field":"x","type":"quantitative","scale":{"domain":[0,1.25],"nice":false,"zero":false}},"y":{"field":"v","type":"quantitative","scale":{"domain":[-2.5,2.5],"nice":false,"zero":false}},"text":{"field":"text"}}},
  {"data":{"name":"tags"},"transform":[{"filter":"datum.panel==='h'"}],"mark":{"type":"text","align":"left","baseline":"alphabetic","fontSize":39},"encoding":{"x":{"field":"x","type":"quantitative","scale":{"domain":[0,1.25],"nice":false,"zero":false}},"y":{"field":"v","type":"quantitative","scale":{"domain":[-2.5,2.5],"nice":false,"zero":false}},"text":{"field":"text"}}},
  {"data":{"name":"xlab"},"mark":{"type":"text","align":"left","baseline":"alphabetic","fontSize":39,"dy":59},"encoding":{"x":{"field":"x","type":"quantitative","scale":{"domain":[0,1.25],"nice":false,"zero":false}},"y":{"datum":-2.5,"scale":{"domain":[-2.5,2.5],"nice":false,"zero":false}},"text":{"field":"text"}}},
  {"data":{"name":"xlab_sub"},"mark":{"type":"text","align":"left","baseline":"alphabetic","fontSize":28,"fontStyle":"italic","dy":64},"encoding":{"x":{"field":"x","type":"quantitative","scale":{"domain":[0,1.25],"nice":false,"zero":false}},"y":{"datum":-2.5,"scale":{"domain":[-2.5,2.5],"nice":false,"zero":false}},"text":{"field":"text"}}},
  {"data":{"name":"xtitle"},"mark":{"type":"text","align":"left","baseline":"alphabetic","fontSize":39,"dy":111},"encoding":{"x":{"field":"x","type":"quantitative","scale":{"domain":[0,1.25],"nice":false,"zero":false}},"y":{"datum":-2.5,"scale":{"domain":[-2.5,2.5],"nice":false,"zero":false}},"text":{"field":"text"}}},
  {"data":{"name":"xtitle_sub"},"mark":{"type":"text","align":"left","baseline":"alphabetic","fontSize":28,"fontStyle":"italic","dy":116},"encoding":{"x":{"field":"x","type":"quantitative","scale":{"domain":[0,1.25],"nice":false,"zero":false}},"y":{"datum":-2.5,"scale":{"domain":[-2.5,2.5],"nice":false,"zero":false}},"text":{"field":"text"}}},
  {"data":{"values":[{}]},"mark":{"type":"rect","filled":false,"stroke":"#000000","strokeWidth":2.7},"encoding":{"x":{"datum":0,"scale":{"domain":[0,1.25],"nice":false,"zero":false}},"x2":{"datum":1.25},"y":{"datum":-2.5,"scale":{"domain":[-2.5,2.5],"nice":false,"zero":false}},"y2":{"datum":2.5}}}
 ]},
 {"width":404,"height":384,"layer":[
  {"data":{"values":[{}]},"mark":{"type":"rule","color":"#d3d3d3","strokeWidth":5},"encoding":{"x":{"datum":1,"scale":{"domain":[0,1.25],"nice":false,"zero":false}}}},
  {"data":{"values":[{}]},"mark":{"type":"rule","color":"#d3d3d3","strokeWidth":5},"encoding":{"y":{"datum":0,"scale":{"domain":[-2.5,2.5],"nice":false,"zero":false}}}},
  {"data":{"name":"lines"},"transform":[{"filter":"datum.panel==='i'"}],"mark":{"type":"line","clip":true,"strokeWidth":3.6},"encoding":{
   "x":{"field":"x","type":"quantitative","scale":{"domain":[0,1.25],"nice":false,"zero":false},"axis":{"values":[0,1],"labels":false,"title":null}},
   "y":{"field":"v","type":"quantitative","scale":{"domain":[-2.5,2.5],"nice":false,"zero":false},"axis":{"values":[-2,0,2],"labels":false,"title":null}},
   "color":{"field":"series","type":"nominal","title":null,"scale":{"domain":["bottom_cr","top_cr","bottom_ccr","top_ccr"],"range":["#ff0000","#ff0000","#0000ff","#0000ff"]},"legend":{"title":null,"orient":"none","legendX":-45,"legendY":-98,"direction":"horizontal","columns":4,"symbolType":"M-4.2,0H4.2","symbolSize":400,"symbolStrokeWidth":3.6,"labelFontSize":40,"labelOffset":57,"columnPadding":81,"padding":0,"labelLimit":600}},
   "strokeDash":{"field":"series","type":"nominal","title":null,"scale":{"domain":["bottom_cr","top_cr","bottom_ccr","top_ccr"],"range":[[13.3,5.8],[1,0],[13.3,5.8],[1,0]]},"legend":{"title":null,"orient":"none","legendX":-45,"legendY":-98,"direction":"horizontal","columns":4,"symbolType":"M-4.2,0H4.2","symbolSize":400,"symbolStrokeWidth":3.6,"labelFontSize":40,"labelOffset":57,"columnPadding":81,"padding":0,"labelLimit":600}}}},
  {"data":{"name":"ann"},"transform":[{"filter":"datum.panel==='i'"}],"mark":{"type":"text","align":"left","baseline":"alphabetic","fontSize":39},"encoding":{"x":{"field":"x","type":"quantitative","scale":{"domain":[0,1.25],"nice":false,"zero":false}},"y":{"field":"v","type":"quantitative","scale":{"domain":[-2.5,2.5],"nice":false,"zero":false}},"text":{"field":"text"}}},
  {"data":{"name":"ann_it"},"transform":[{"filter":"datum.panel==='i'"}],"mark":{"type":"text","align":"left","baseline":"alphabetic","fontSize":39,"fontStyle":"italic"},"encoding":{"x":{"field":"x","type":"quantitative","scale":{"domain":[0,1.25],"nice":false,"zero":false}},"y":{"field":"v","type":"quantitative","scale":{"domain":[-2.5,2.5],"nice":false,"zero":false}},"text":{"field":"text"}}},
  {"data":{"name":"tags"},"transform":[{"filter":"datum.panel==='i'"}],"mark":{"type":"text","align":"left","baseline":"alphabetic","fontSize":39},"encoding":{"x":{"field":"x","type":"quantitative","scale":{"domain":[0,1.25],"nice":false,"zero":false}},"y":{"field":"v","type":"quantitative","scale":{"domain":[-2.5,2.5],"nice":false,"zero":false}},"text":{"field":"text"}}},
  {"data":{"name":"xlab"},"mark":{"type":"text","align":"left","baseline":"alphabetic","fontSize":39,"dy":59},"encoding":{"x":{"field":"x","type":"quantitative","scale":{"domain":[0,1.25],"nice":false,"zero":false}},"y":{"datum":-2.5,"scale":{"domain":[-2.5,2.5],"nice":false,"zero":false}},"text":{"field":"text"}}},
  {"data":{"name":"xlab_sub"},"mark":{"type":"text","align":"left","baseline":"alphabetic","fontSize":28,"fontStyle":"italic","dy":64},"encoding":{"x":{"field":"x","type":"quantitative","scale":{"domain":[0,1.25],"nice":false,"zero":false}},"y":{"datum":-2.5,"scale":{"domain":[-2.5,2.5],"nice":false,"zero":false}},"text":{"field":"text"}}},
  {"data":{"name":"xtitle"},"mark":{"type":"text","align":"left","baseline":"alphabetic","fontSize":39,"dy":111},"encoding":{"x":{"field":"x","type":"quantitative","scale":{"domain":[0,1.25],"nice":false,"zero":false}},"y":{"datum":-2.5,"scale":{"domain":[-2.5,2.5],"nice":false,"zero":false}},"text":{"field":"text"}}},
  {"data":{"name":"xtitle_sub"},"mark":{"type":"text","align":"left","baseline":"alphabetic","fontSize":28,"fontStyle":"italic","dy":116},"encoding":{"x":{"field":"x","type":"quantitative","scale":{"domain":[0,1.25],"nice":false,"zero":false}},"y":{"datum":-2.5,"scale":{"domain":[-2.5,2.5],"nice":false,"zero":false}},"text":{"field":"text"}}},
  {"data":{"values":[{}]},"mark":{"type":"rect","filled":false,"stroke":"#006400","strokeWidth":5},"encoding":{"x":{"datum":0,"scale":{"domain":[0,1.25],"nice":false,"zero":false}},"x2":{"datum":1.25},"y":{"datum":-2.5,"scale":{"domain":[-2.5,2.5],"nice":false,"zero":false}},"y2":{"datum":2.5}}}
 ]}
]
}
